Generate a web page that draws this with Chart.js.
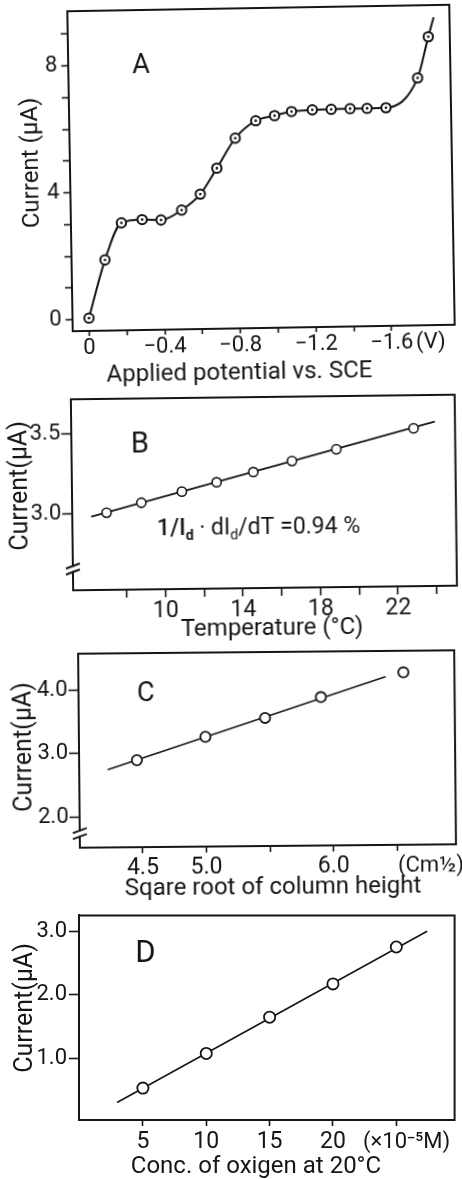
<!DOCTYPE html>
<html>
<head>
<meta charset="utf-8">
<script src="https://cdn.jsdelivr.net/npm/chart.js@4.4.1/dist/chart.umd.min.js"></script>
<style>
  html, body { margin: 0; padding: 0; background: #fff; }
  body { width: 462px; height: 1180px; position: relative; overflow: hidden; }
  canvas { position: absolute; left: 0; }
</style>
</head>
<body>
<canvas id="cA" width="462" height="390" style="top:0px;transform-origin:261px 168px;transform:rotate(-0.97deg)"></canvas>
<canvas id="cB" width="462" height="255" style="top:390px;transform-origin:264px 103px;transform:rotate(-0.69deg)"></canvas>
<canvas id="cC" width="462" height="263" style="top:645px;transform-origin:268px 103px;transform:rotate(-0.52deg)"></canvas>
<canvas id="cD" width="462" height="272" style="top:908px"></canvas>
<script>
// ---------- Panel A : current vs applied potential ----------
const aPotential = [0, -0.09, -0.18, -0.29, -0.39, -0.50, -0.60, -0.69, -0.79, -0.90, -1.00, -1.09, -1.20, -1.30, -1.40, -1.49, -1.59, -1.76, -1.82];
const aCurrent   = [0.05, 1.87, 3.03, 3.12, 3.10, 3.40, 3.89, 4.70, 5.63, 6.17, 6.32, 6.44, 6.48, 6.49, 6.50, 6.50, 6.51, 7.43, 8.72];
const aCurveTipPotential = -1.85;
const aCurveTipCurrent = 9.33;
const aXTickValues = [0, -0.2, -0.4, -0.6, -0.8, -1.0, -1.2, -1.4, -1.6];
const aXTickLabels = ['0', '', '\u22120.4', '', '\u22120.8', '', '\u22121.2', '', '\u22121.6'];
const aYTickValues = [0, 1, 2, 3, 4, 5, 6, 7, 8, 9];
const aYTickLabels = ['0', '', '', '', '4', '', '', '', '8', ''];

// ---------- Panel B : current vs temperature ----------
const bTemperature = [7.0, 8.8, 10.9, 12.7, 14.6, 16.6, 18.9, 22.9];
const bCurrent     = [3.005, 3.065, 3.131, 3.187, 3.248, 3.314, 3.384, 3.509];
const bFitTemperature = [6.2, 24.0];
const bFitCurrent     = [2.981, 3.549];
const bXTickValues = [8, 10, 12, 14, 16, 18, 20, 22, 24];
const bXTickLabels = ['', '10', '', '14', '', '18', '', '22', ''];
const bYTickValues = [3.0, 3.5];
const bYTickLabels = ['3.0', '3.5'];

// ---------- Panel C : current vs square root of column height ----------
const cRootHeight = [4.46, 5.00, 5.47, 5.91, 6.56];
const cCurrent    = [2.885, 3.243, 3.531, 3.850, 4.228];
const cFitRoot    = [4.23, 6.42];
const cFitCurrent = [2.738, 4.163];
const cXTickValues = [4.5, 5.0, 5.5, 6.0, 6.5];
const cXTickLabels = ['4.5', '5.0', '', '6.0', ''];
const cYTickValues = [2.0, 3.0, 4.0];
const cYTickLabels = ['2.0', '3.0', '4.0'];

// ---------- Panel D : current vs oxygen concentration ----------
const dConc    = [5, 10, 15, 20, 25];
const dCurrent = [0.526, 1.072, 1.644, 2.169, 2.751];
const dFitConc    = [2.96, 27.43];
const dFitCurrent = [0.298, 3.0];
const dXTickValues = [5, 10, 15, 20, 25];
const dXTickLabels = ['5', '10', '15', '20', ''];
const dYTickValues = [1.0, 2.0, 3.0];
const dYTickLabels = ['1.0', '2.0', '3.0'];

// ---------- styling helpers ----------
const INK = '#161616';
const FONT = "Roboto, 'Liberation Sans', 'DejaVu Sans', sans-serif";
const pts = (xs, ys) => xs.map((x, i) => ({ x: x, y: ys[i] }));

const decor = {
  id: 'decor',
  beforeDatasetsDraw(chart, args, o) {
    const { ctx, chartArea: a } = chart;
    ctx.save();
    ctx.strokeStyle = INK;
    ctx.lineWidth = o.frame || 2;
    ctx.lineCap = 'square';
    ctx.beginPath();
    ctx.moveTo(a.left, a.top);
    ctx.lineTo(a.right, a.top);
    ctx.lineTo(a.right, a.bottom);
    ctx.stroke();
    ctx.restore();
  },
  afterDraw(chart, args, o) {
    const ctx = chart.ctx;
    (o.texts || []).forEach(t => {
      ctx.save();
      ctx.font = (t.weight || 400) + ' ' + t.size + 'px ' + FONT;
      ctx.fillStyle = INK;
      ctx.textAlign = t.align || 'center';
      ctx.textBaseline = 'middle';
      ctx.translate(t.x, t.y);
      if (t.rot) ctx.rotate(t.rot * Math.PI / 180);
      ctx.fillText(t.text, 0, 0);
      ctx.restore();
    });
    if (o.breakAt !== undefined && o.breakAt !== null) {
      const x = chart.chartArea.left;
      const y = chart.scales.y.getPixelForValue(o.breakAt);
      ctx.save();
      ctx.fillStyle = '#fff';
      ctx.fillRect(x - 2, y - 2, 4, 4);
      ctx.strokeStyle = INK;
      ctx.lineWidth = 2;
      [-3, 3].forEach(d => {
        ctx.beginPath();
        ctx.moveTo(x - 7, y + d + 2.5);
        ctx.lineTo(x + 7, y + d - 2.5);
        ctx.stroke();
      });
      ctx.restore();
    }
    if (o.equation) {
      const e = o.equation;
      let x = e.x;
      ctx.save();
      ctx.fillStyle = INK;
      ctx.textAlign = 'left';
      ctx.textBaseline = 'middle';
      e.parts.forEach(p => {
        const size = p.sub ? e.size * 0.62 : e.size;
        ctx.font = (p.weight || 400) + ' ' + size + 'px ' + FONT;
        ctx.fillText(p.text, x, e.y + (p.sub ? e.size * 0.28 : 0));
        x += ctx.measureText(p.text).width;
      });
      ctx.restore();
    }
  }
};
Chart.register(decor);

function axis(o) {
  return {
    type: 'linear',
    min: o.min, max: o.max, reverse: !!o.reverse,
    afterBuildTicks: s => { s.ticks = o.values.map(v => ({ value: v })); },
    afterFit: s => {
      if (s.isHorizontal()) { s.height = o.size; s.paddingLeft = 0; s.paddingRight = 0; }
      else { s.width = o.size; s.paddingTop = 0; s.paddingBottom = 0; }
    },
    ticks: {
      callback: (v, i) => o.labels[i],
      font: { family: FONT, size: o.fontSize, lineHeight: 1, weight: 400 },
      color: INK, padding: o.pad, maxRotation: 0, minRotation: 0, autoSkip: false
    },
    grid: {
      display: true, drawOnChartArea: false, drawTicks: true,
      tickLength: o.tick, tickWidth: 1.6, tickColor: INK, color: INK
    },
    border: { display: true, color: INK, width: o.border || 2 }
  };
}

function panel(id, box, xAxis, yAxis, datasets, decorOpts) {
  const cv = document.getElementById(id);
  const W = cv.width, H = cv.height;
  return new Chart(cv, {
    type: 'scatter',
    data: { datasets: datasets },
    options: {
      responsive: false, animation: false, devicePixelRatio: 1, events: [],
      layout: { padding: { left: 0, top: box.top, right: W - box.right, bottom: H - box.bottom - xAxis.size } },
      plugins: { legend: { display: false }, tooltip: { enabled: false }, decor: decorOpts },
      scales: { x: axis(xAxis), y: axis(Object.assign({}, yAxis, { size: box.left })) }
    }
  });
}

function circles(data, r, bw) {
  return { data: data, order: 1, showLine: false, pointRadius: r, pointBorderWidth: bw,
           pointBackgroundColor: '#fff', pointBorderColor: INK, pointHoverRadius: r };
}
function line(data, bw, mono) {
  return { data: data, order: 2, showLine: true, borderColor: INK, borderWidth: bw, pointRadius: 0,
           fill: false, cubicInterpolationMode: mono ? 'monotone' : 'default', tension: 0 };
}

// ---------- Panel A ----------
panel('cA', { left: 70, right: 452, top: 8, bottom: 328 },
  { min: -1.934, max: 0.087, reverse: true, values: aXTickValues, labels: aXTickLabels, size: 40, fontSize: 22, tick: 5, pad: 1 },
  { min: -0.354, max: 9.715, values: aYTickValues, labels: aYTickLabels, fontSize: 22, tick: 7, pad: 4 },
  [
    { data: pts(aPotential, aCurrent), order: 0, showLine: false, pointRadius: 1.3, pointBorderWidth: 0,
      pointBackgroundColor: INK, pointBorderColor: INK },
    circles(pts(aPotential, aCurrent), 4.7, 2),
    line(pts(aPotential.concat([aCurveTipPotential]), aCurrent.concat([aCurveTipCurrent])), 2, true)
  ],
  { frame: 2, texts: [
    { text: 'Current (\u03bcA)', x: 32, y: 159, size: 24, rot: -90 },
    { text: 'Applied potential vs. SCE', x: 236, y: 372.6, size: 24 },
    { text: 'A', x: 142.7, y: 64, size: 27 },
    { text: '(V)', x: 413, y: 345, size: 22, align: 'left' }
  ] });

// ---------- Panel B ----------
panel('cB', { left: 72, right: 456, top: 7, bottom: 198 },
  { min: 5.227, max: 25.04, values: bXTickValues, labels: bXTickLabels, size: 40, fontSize: 23, tick: 8, pad: 3 },
  { min: 2.523, max: 3.716, values: bYTickValues, labels: bYTickLabels, fontSize: 22, tick: 10, pad: 1 },
  [
    circles(pts(bTemperature, bCurrent), 4.6, 1.6),
    line(pts(bFitTemperature, bFitCurrent), 1.8, false)
  ],
  { frame: 2, breakAt: 2.656,
    texts: [
      { text: 'Current(\u03bcA)', x: 21, y: 93, size: 25, rot: -90 },
      { text: 'Temperature (\u00b0C)', x: 270.4, y: 239, size: 24 },
      { text: 'B', x: 140.6, y: 53.5, size: 29 }
    ],
    equation: { x: 156.6, y: 138.7, size: 23, parts: [
      { text: '1/I', weight: 500 }, { text: 'd', sub: true, weight: 700 },
      { text: ' \u00b7 dI' }, { text: 'd', sub: true },
      { text: '/dT =0.94 %' }
    ] }
  });

// ---------- Panel C ----------
panel('cC', { left: 79, right: 456, top: 5, bottom: 201 },
  { min: 4.006, max: 6.961, values: cXTickValues, labels: cXTickLabels, size: 40, fontSize: 23, tick: 6, pad: 4 },
  { min: 1.516, max: 4.569, values: cYTickValues, labels: cYTickLabels, fontSize: 22, tick: 10, pad: 1 },
  [
    circles(pts(cRootHeight, cCurrent), 5.1, 1.8),
    line(pts(cFitRoot, cFitCurrent), 1.6, false)
  ],
  { frame: 2, breakAt: 1.738,
    texts: [
      { text: 'Current(\u03bcA)', x: 24.5, y: 99.8, size: 25, rot: -90 },
      { text: 'Sqare root of column height', x: 271.8, y: 242.5, size: 24 },
      { text: 'C', x: 146.3, y: 48.1, size: 27 },
      { text: '(Cm\u00bd)', x: 397, y: 222.5, size: 22, align: 'left' }
    ] });

// ---------- Panel D ----------
panel('cD', { left: 79, right: 457, top: 5, bottom: 212 },
  { min: -0.043, max: 29.6, values: dXTickValues, labels: dXTickLabels, size: 40, fontSize: 23, tick: 6, pad: 5 },
  { min: 0.023, max: 3.249, values: dYTickValues, labels: dYTickLabels, fontSize: 22, tick: 10, pad: 2 },
  [
    circles(pts(dConc, dCurrent), 5.6, 1.8),
    line(pts(dFitConc, dFitCurrent), 1.6, false)
  ],
  { frame: 2,
    texts: [
      { text: 'Current(\u03bcA)', x: 25.5, y: 100, size: 25, rot: -90 },
      { text: 'Conc. of oxigen at 20\u00b0C', x: 256, y: 258.7, size: 24 },
      { text: 'D', x: 145.5, y: 46.2, size: 31 },
      { text: '(\u00d710\u207b\u2075M)', x: 363, y: 234.5, size: 22, align: 'left' }
    ] });
</script>
</body>
</html>
